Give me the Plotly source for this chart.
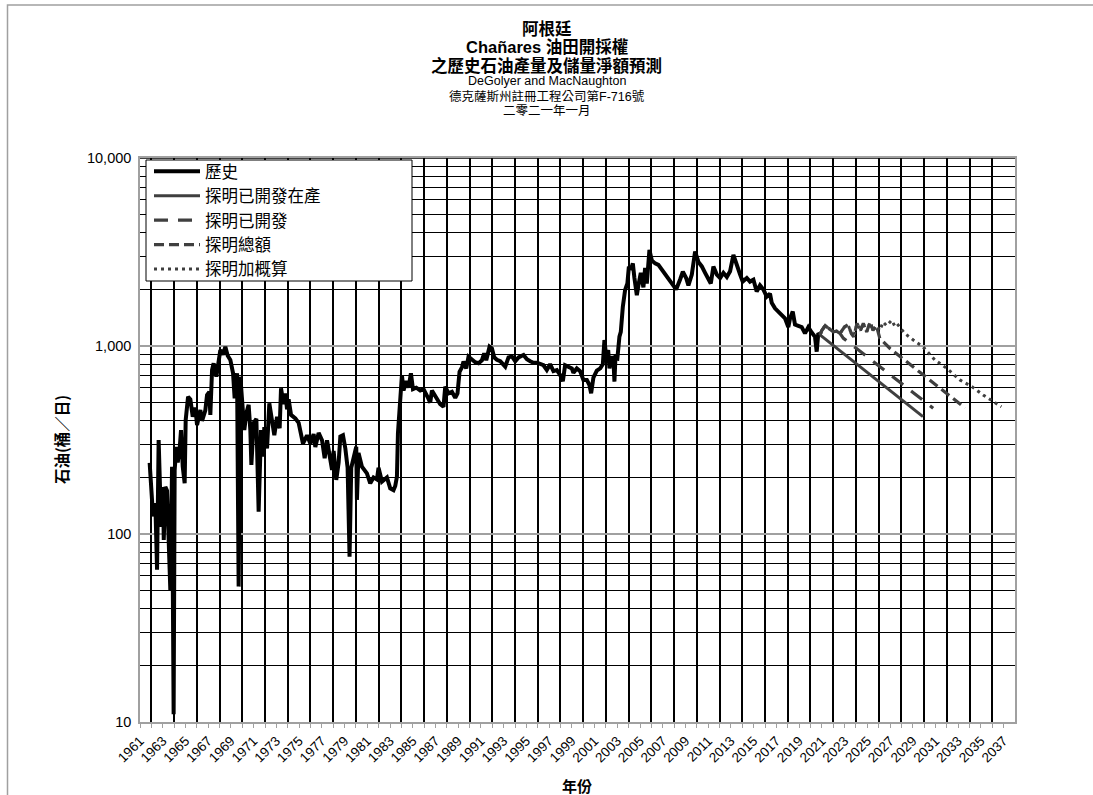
import plotly.graph_objects as go

# ---------------- data ----------------
hist_year = [1961.85, 1962.15, 1962.35, 1962.5, 1962.64, 1962.86, 1963.03, 1963.09, 1963.23, 1963.38,
             1963.67, 1963.82, 1963.96, 1964.05, 1964.2, 1964.32, 1964.5, 1964.61, 1964.76, 1964.93,
             1965.02, 1965.23, 1965.43, 1965.64, 1965.87, 1966.02, 1966.31, 1966.46, 1966.75, 1966.9,
             1967.1, 1967.19, 1967.34, 1967.48, 1967.72, 1967.92, 1968.07, 1968.31, 1968.51, 1968.71,
             1968.95, 1969.19, 1969.33, 1969.54, 1969.68, 1969.83, 1969.98, 1970.18, 1970.36, 1970.56,
             1970.71, 1970.8, 1971.0, 1971.24, 1971.44, 1971.65, 1971.83, 1971.94, 1972.18, 1972.38,
             1972.62, 1972.82, 1973.06, 1973.29, 1973.41, 1973.64, 1973.79, 1973.94, 1974.08, 1974.29,
             1974.67, 1974.96, 1975.34, 1975.7, 1975.99, 1976.28, 1976.43, 1976.72, 1977.02, 1977.25,
             1977.46, 1977.68, 1977.9, 1978.04, 1978.27, 1978.48, 1978.63, 1978.86, 1979.07, 1979.27,
             1979.44, 1979.59, 1979.8, 1980.03, 1980.09, 1980.23, 1980.53, 1980.97, 1981.26, 1981.55,
             1981.85, 1981.99, 1982.29, 1982.73, 1983.02, 1983.31, 1983.46, 1983.61, 1983.7, 1983.9,
             1984.05, 1984.19, 1984.43, 1984.63, 1984.84, 1985.02, 1985.31, 1985.66, 1985.95, 1986.3,
             1986.54, 1986.69, 1986.98, 1987.27, 1987.42, 1987.71, 1987.86, 1988.15, 1988.45, 1988.74,
             1988.94, 1989.12, 1989.33, 1989.47, 1989.71, 1989.91, 1990.21, 1990.5, 1990.79, 1991.09,
             1991.29, 1991.47, 1991.76, 1991.97, 1992.17, 1992.41, 1992.7, 1993.14, 1993.43, 1993.73,
             1994.02, 1994.31, 1994.75, 1995.05, 1995.34, 1995.63, 1995.93, 1996.22, 1996.51, 1996.8,
             1997.09, 1997.38, 1997.68, 1997.97, 1998.21, 1998.41, 1998.7, 1999.0, 1999.14, 1999.44,
             1999.73, 2000.02, 2000.32, 2000.55, 2000.7, 2000.9, 2001.2, 2001.5, 2001.73, 2001.87,
             2002.02, 2002.2, 2002.31, 2002.52, 2002.66, 2002.75, 2002.84, 2003.01, 2003.19, 2003.31,
             2003.49, 2003.69, 2003.89, 2004.02, 2004.19, 2004.37, 2004.51, 2004.72, 2004.86, 2005.07,
             2005.3, 2005.45, 2005.6, 2005.83, 2006.04, 2006.33, 2006.62, 2006.92, 2007.21, 2007.5,
             2007.89, 2008.18, 2008.53, 2008.77, 2009.06, 2009.26, 2009.56, 2009.85, 2010.14, 2010.44,
             2010.73, 2011.02, 2011.23, 2011.46, 2011.76, 2012.05, 2012.34, 2012.64, 2012.93, 2013.22,
             2013.52, 2013.81, 2014.04, 2014.4, 2014.68, 2014.98, 2015.27, 2015.56, 2015.85, 2016.15,
             2016.44, 2016.59, 2016.88, 2017.32, 2017.76, 2018.05, 2018.2, 2018.44, 2018.64, 2018.93,
             2019.23, 2019.52, 2019.81, 2020.11, 2020.4, 2020.55, 2020.69, 2020.84]
hist_oil = [239, 124, 146, 64.5, 316, 109, 178, 93, 178, 170,
            50, 228, 11, 219, 291, 240, 290, 357, 228, 186,
            404, 537, 520, 421, 470, 380, 457, 400, 455, 549,
            570, 430, 745, 809, 687, 861, 952, 900, 991, 890,
            843, 716, 527, 716, 52.5, 687, 540, 357, 440, 486,
            357, 233, 390, 410, 131.6, 357, 258, 370, 285, 496,
            400, 335, 420, 365, 596, 490, 560, 460, 520, 430,
            412, 390, 303, 335, 303, 340, 290, 345, 315, 253,
            315, 258, 219, 277, 194, 240, 330, 335, 285, 225,
            75.7, 225, 260, 291, 152, 270, 228, 210, 186, 200,
            195, 225, 190, 200, 175, 171, 180, 202, 344, 540,
            700, 580, 650, 600, 716, 590, 600, 580, 590, 537,
            500, 580, 540, 510, 490, 475, 608, 560, 570, 530,
            560, 729, 770, 826, 760, 877, 850, 820, 810, 840,
            914, 840, 991, 970, 870, 845, 830, 776, 870, 880,
            830, 870, 896, 850, 830, 815, 815, 800, 790, 745,
            800, 735, 745, 701, 650, 790, 780, 760, 720, 760,
            735, 660, 660, 620, 560, 680, 740, 760, 800, 1076,
            880, 950, 760, 880, 850, 646, 870, 860, 1122, 1190,
            1619, 1986, 2150, 2641, 2550, 2750, 2300, 1865, 2100, 2450,
            2050, 2600, 2150, 3243, 2850, 2750, 2700, 2550, 2450, 2300,
            2150, 2000, 2260, 2484, 2300, 2100, 2400, 3180, 2800, 2650,
            2450, 2300, 2150, 2650, 2400, 2300, 2450, 2330, 2500, 3050,
            2650, 2400, 2200, 2300, 2200, 2250, 1950, 2100, 2000, 1830,
            1900, 1700, 1587, 1500, 1403, 1260, 1400, 1524, 1300, 1280,
            1260, 1167, 1260, 1180, 1120, 933, 1170, 1150]

# 探明已開發在產 (proved developed producing)
pdp_year = [2020.84, 2022, 2024, 2026, 2028, 2029.9]
pdp_oil = [1146, 1007, 806, 645, 516, 421]

# 探明已開發 (proved developed)
pd_year = [2020.84, 2021.0, 2021.3, 2021.6, 2022.0, 2022.3, 2022.6, 2022.9,
           2025.25, 2026.7, 2028.3, 2029.8, 2030.8]
pd_oil = [1146, 1210, 1283, 1236, 1190, 1200, 1167, 1099,
          852, 728, 612, 520, 467]

# 探明總額 (total proved)
pt_year = [2020.84, 2021.0, 2021.3, 2021.6, 2022.0, 2022.3, 2022.6, 2023.0, 2023.3,
           2023.6, 2023.8, 2024.1, 2024.4, 2024.65, 2024.95, 2025.25, 2025.5, 2025.8,
           2026.1, 2027.0, 2028.0, 2029.0, 2030.0, 2031.0, 2032.3, 2033.6]
pt_oil = [1146, 1210, 1283, 1236, 1190, 1200, 1167, 1263, 1300,
          1167, 1120, 1318, 1210, 1318, 1190, 1340, 1210, 1283,
          1100, 970, 869, 778, 697, 624, 540, 468]

# 探明加概算 (proved plus probable)
pp_year = [2020.84, 2021.0, 2021.3, 2021.6, 2022.0, 2022.3, 2022.6, 2023.0, 2023.3,
           2023.6, 2023.8, 2024.1, 2024.4, 2024.65, 2024.95, 2025.25, 2025.5, 2025.8,
           2026.1, 2026.4, 2026.7, 2027.15, 2027.4, 2027.6, 2028.3, 2029.05, 2029.9,
           2030.95, 2032.0, 2033.15, 2034.2, 2035.2, 2036.1, 2036.8]
pp_oil = [1146, 1210, 1283, 1236, 1190, 1200, 1167, 1263, 1300,
          1167, 1120, 1318, 1210, 1318, 1190, 1340, 1210, 1283,
          1210, 1340, 1283, 1370, 1283, 1318, 1167, 1076, 990,
          843, 760, 660, 608, 549, 506, 475]

series_names = ["歷史", "探明已開發在產", "探明已開發", "探明總額", "探明加概算"]

x_label_years = list(range(1961, 2038, 2))
x_grid_years = list(range(1962, 2037, 2))
y_major = [10, 100, 1000, 10000]
y_major_text = ["10", "100", "1,000", "10,000"]
y_minor = [m * d for d in (10, 100, 1000) for m in range(2, 10)]

title_lines = ["<b>阿根廷</b>", "<b>Chañares 油田開採權</b>", "<b>之歷史石油產量及儲量淨額預測</b>",
               "DeGolyer and MacNaughton", "德克薩斯州註冊工程公司第F-716號", "二零二一年一月"]
x_title = "年份"
y_title = "石油(桶／日)"

# ---------------- layout helpers ----------------
W, H = 1093, 795
L, R, T, B = 140, 78, 158, 73
PW, PH = W - L - R, H - T - B


def px_x(px):
    return (px - L) / PW


def px_y(py):
    return 1 - (py - T) / PH


LAT = "Liberation Sans, Arial, Noto Sans CJK TC, sans-serif"
CJK = "Noto Sans CJK TC, Liberation Sans, sans-serif"
FC = "#3f3f3f"

fig = go.Figure()
fig.add_trace(go.Scatter(x=hist_year, y=hist_oil, mode="lines", name=series_names[0],
                         line=dict(color="black", width=4)))
fig.add_trace(go.Scatter(x=pdp_year, y=pdp_oil, mode="lines", name=series_names[1],
                         line=dict(color=FC, width=3)))
fig.add_trace(go.Scatter(x=pd_year, y=pd_oil, mode="lines", name=series_names[2],
                         line=dict(color=FC, width=3.2, dash="14px,10px")))
fig.add_trace(go.Scatter(x=pt_year, y=pt_oil, mode="lines", name=series_names[3],
                         line=dict(color=FC, width=3.2, dash="10px,5px")))
fig.add_trace(go.Scatter(x=pp_year, y=pp_oil, mode="lines", name=series_names[4],
                         line=dict(color=FC, width=3, dash="3px,4px")))

GRAY = "#a0a0a0"
fig.update_xaxes(range=[1961, 2038], tickmode="array", tickvals=x_label_years,
                 ticktext=[str(v) for v in x_label_years], tickangle=-45,
                 tickfont=dict(family=LAT, size=13.5, color="black"),
                 ticks="outside", ticklen=4, tickcolor=GRAY, tickwidth=1,
                 showgrid=False, zeroline=False,
                 showline=True, linecolor=GRAY, linewidth=1.5, mirror=True,
                 minor=dict(tickmode="array", tickvals=x_grid_years, ticks="outside",
                            ticklen=4, tickcolor=GRAY, tickwidth=1,
                            showgrid=True, gridcolor="black", gridwidth=2))
fig.update_yaxes(type="log", range=[1, 4], tickmode="array", tickvals=y_major,
                 ticktext=y_major_text, tickfont=dict(family=LAT, size=14.5, color="black"),
                 ticks="", ticklabelstandoff=4,
                 showgrid=True, gridcolor=GRAY, gridwidth=1.5, zeroline=False,
                 showline=True, linecolor=GRAY, linewidth=1.5, mirror=True,
                 minor=dict(tickmode="array", tickvals=y_minor, ticks="",
                            showgrid=True, gridcolor="black", gridwidth=1.3))

shapes = [
    # black line along the 10,000 level
    dict(type="line", xref="paper", yref="y", x0=0, x1=1, y0=10000, y1=10000,
         line=dict(color="black", width=1.5), layer="below"),
    # legend box
    dict(type="rect", xref="paper", yref="paper", x0=px_x(146), x1=px_x(412),
         y0=px_y(281), y1=px_y(160), fillcolor="white",
         line=dict(color="black", width=1), layer="above"),
    # chart area frame (top and left edges)
    dict(type="path", xref="paper", yref="paper",
         path=f"M {px_x(7.5)},{px_y(800)} L {px_x(7.5)},{px_y(5)} L {px_x(1100)},{px_y(5)}",
         line=dict(color=GRAY, width=1.5), layer="above"),
]

title_y = [29, 47, 65, 81, 96, 111]
title_size = [16.5, 16.5, 16.5, 12.5, 12.5, 12.5]
annotations = []
for txt, yy, sz in zip(title_lines, title_y, title_size):
    annotations.append(dict(text=txt, xref="paper", yref="paper", x=px_x(546.5), y=px_y(yy),
                            xanchor="center", yanchor="middle", showarrow=False,
                            font=dict(family=LAT, size=sz, color="black")))
annotations.append(dict(text=f"<b>{x_title}</b>", xref="paper", yref="paper",
                        x=px_x(577), y=px_y(785), xanchor="center", yanchor="middle",
                        showarrow=False, font=dict(family=CJK, size=15, color="black")))
annotations.append(dict(text=f"<b>{y_title}</b>", xref="paper", yref="paper",
                        x=px_x(61), y=px_y(440), xanchor="center", yanchor="middle",
                        textangle=-90, showarrow=False,
                        font=dict(family=CJK, size=15.5, color="black")))

fig.update_layout(
    width=W, height=H,
    margin=dict(l=L, r=R, t=T, b=B, pad=0),
    paper_bgcolor="white", plot_bgcolor="white",
    showlegend=True,
    legend=dict(x=px_x(149), y=px_y(154), xanchor="left", yanchor="top",
                bgcolor="rgba(0,0,0,0)", borderwidth=0, itemwidth=46,
                font=dict(family=CJK, size=16.5, color="black"), tracegroupgap=0),
    shapes=shapes,
    annotations=annotations,
)

fig.write_html("out.html")
